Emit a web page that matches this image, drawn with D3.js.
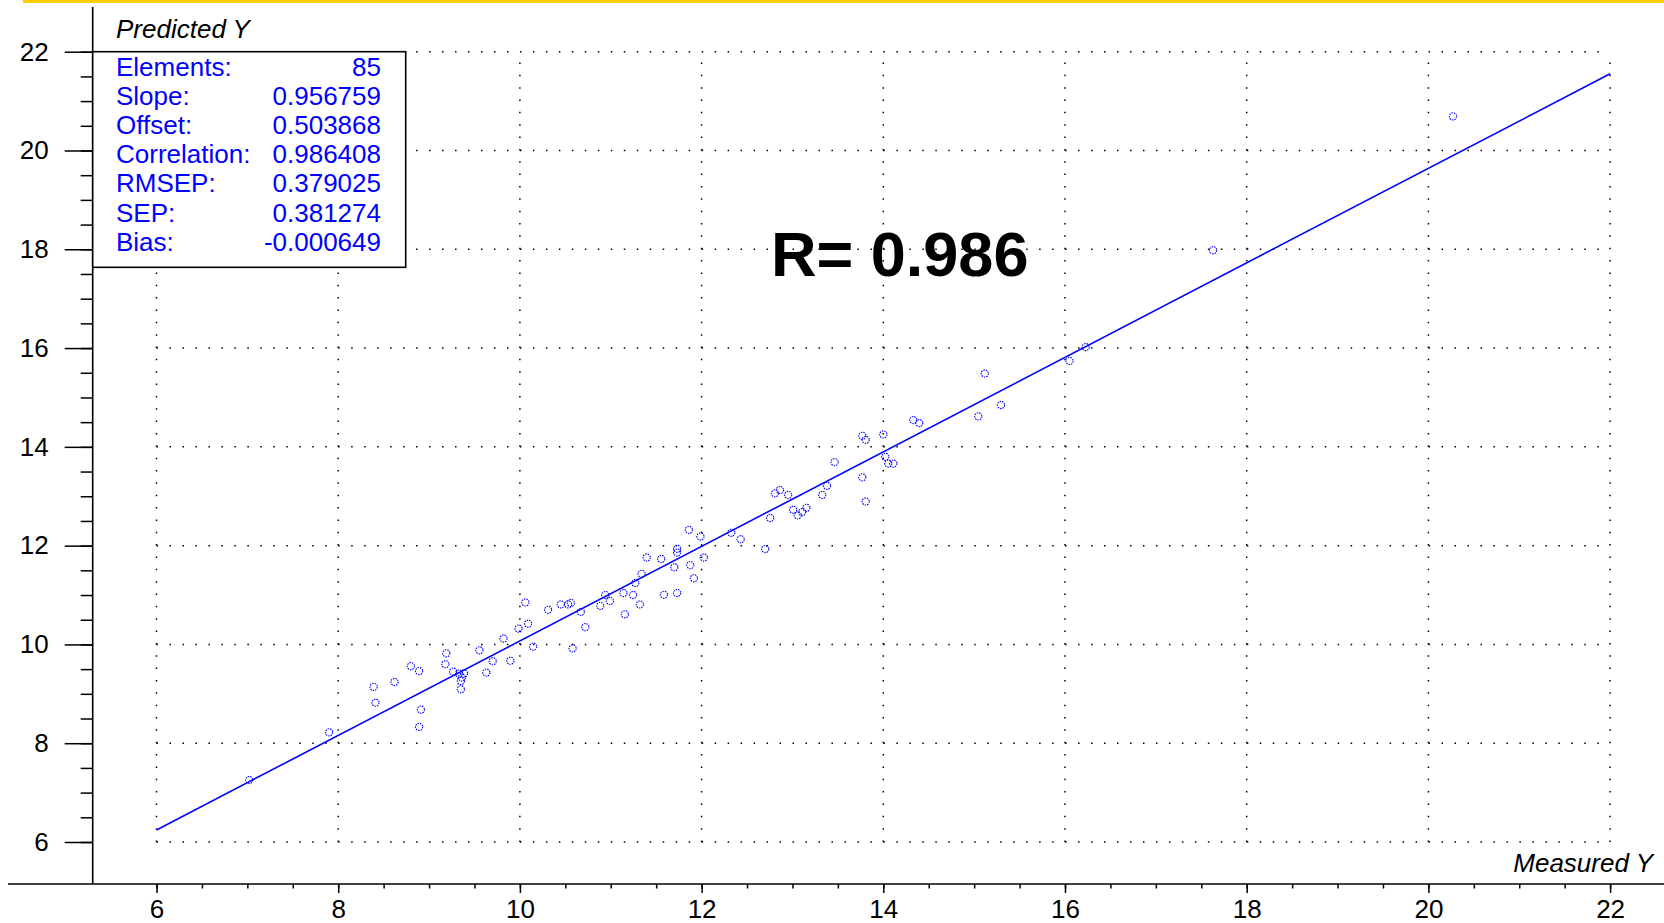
<!DOCTYPE html>
<html>
<head>
<meta charset="utf-8">
<script src="https://cdn.jsdelivr.net/npm/d3@7"></script>
<style>
  body { margin: 0; background: #fff; }
  svg { display: block; font-family: "Liberation Sans", Arial, sans-serif; }
</style>
</head>
<body>
<svg id="chart" width="1664" height="923"></svg>
<script>
//
// Data
//

var measured = [
  7.02, 7.90, 8.39, 8.41, 8.62, 8.80, 8.89, 8.91, 8.89, 9.19,
  9.18, 9.265, 9.33, 9.385, 9.35, 9.35, 9.36, 9.555, 9.70, 9.63,
  9.82, 9.895, 9.985, 10.06, 10.09, 10.145, 10.31, 10.45, 10.53, 10.56,
  10.67, 10.72, 10.58, 10.885, 10.94, 10.99, 11.14, 11.155, 11.245, 11.32,
  11.27, 11.34, 11.395, 11.555, 11.585, 11.70, 11.73, 11.73, 11.73, 11.875,
  11.915, 11.86, 11.987, 12.024, 12.326, 12.43, 12.70, 12.755, 12.807, 12.862,
  12.953, 13.008, 13.058, 13.107, 13.153, 13.328, 13.38, 13.464, 13.769, 13.806,
  13.769, 13.806, 14.0, 14.022, 14.055, 14.11, 14.33, 14.396, 15.046, 15.295,
  15.117, 16.05, 16.227, 17.63, 20.27
]
var predicted = [
  7.255, 8.22, 9.14, 8.82, 9.24, 9.56, 9.46, 8.68, 8.33, 9.82,
  9.60, 9.45, 9.41, 9.41, 9.26, 9.09, 9.33, 9.88, 9.66, 9.43,
  10.12, 9.67, 10.32, 10.85, 10.42, 9.955, 10.70, 10.81, 10.81, 10.84,
  10.66, 10.35, 9.92, 10.78, 11.00, 10.88, 11.04, 10.61, 11.00, 10.81,
  11.245, 11.43, 11.76, 11.73, 11.005, 11.56, 11.04, 11.935, 11.86, 11.605,
  11.34, 12.32, 12.185, 11.76, 12.26, 12.13, 11.93, 12.56, 13.06, 13.127,
  13.026, 12.728, 12.613, 12.68, 12.765, 13.026, 13.21, 13.69, 13.383, 12.895,
  14.224, 14.142, 14.251, 13.797, 13.661, 13.661, 14.542, 14.481, 14.617, 14.847,
  15.486, 15.74, 16.02, 17.98, 20.69
]

var statLabels = ['Elements:', 'Slope:', 'Offset:', 'Correlation:', 'RMSEP:', 'SEP:', 'Bias:']
var statValues = ['85', '0.956759', '0.503868', '0.986408', '0.379025', '0.381274', '-0.000649']
var slope = 0.956759
var offset = 0.503868

var xTicks = [6, 8, 10, 12, 14, 16, 18, 20, 22]
var yTicks = [6, 8, 10, 12, 14, 16, 18, 20, 22]
var minorTicks = d3.range(6, 22.01, 0.5)

var xTitle = 'Measured Y'
var yTitle = 'Predicted Y'
var rText = 'R= 0.986'

//
// Setup
//

var svg = d3.select('#chart')
var blue = '#0000ff'
var fontSize = 26

var x = d3.scaleLinear().domain([6, 22]).range([156.5, 1610.1])
var y = d3.scaleLinear().domain([6, 22]).range([842, 51.7])

var axisX = 92.7   // y axis position (px)
var axisY = 884    // x axis position (px)

// yellow bar on top
svg.append('rect')
  .attr('x', 23).attr('y', 0)
  .attr('width', 1664 - 23).attr('height', 3)
  .attr('fill', '#ffcc00')

//
// Grid
//

var grid = svg.append('g')
grid.selectAll('.hgrid')
  .data(yTicks)
  .enter().append('line')
  .attr('x1', x(6)).attr('x2', x(22))
  .attr('y1', function(d) { return y(d) })
  .attr('y2', function(d) { return y(d) })
  .attr('stroke', '#000')
  .attr('stroke-width', 1.5)
  .attr('stroke-dasharray', '1.5,11.48')

grid.selectAll('.vgrid')
  .data(xTicks)
  .enter().append('line')
  .attr('x1', function(d) { return x(d) })
  .attr('x2', function(d) { return x(d) })
  .attr('y1', y(6)).attr('y2', y(22))
  .attr('stroke', '#000')
  .attr('stroke-width', 1.5)
  .attr('stroke-dasharray', '1.5,10.85')

//
// Axes
//

svg.append('line')
  .attr('x1', 8).attr('x2', 1664)
  .attr('y1', axisY).attr('y2', axisY)
  .attr('stroke', '#000').attr('stroke-width', 1.6)
svg.append('line')
  .attr('x1', axisX).attr('x2', axisX)
  .attr('y1', 7).attr('y2', axisY)
  .attr('stroke', '#000').attr('stroke-width', 1.6)

svg.append('g')
  .attr('transform', 'translate(0,' + axisY + ')')
  .call(d3.axisBottom(x).tickValues(minorTicks).tickSize(4.5).tickFormat(''))
svg.append('g')
  .attr('transform', 'translate(0,' + axisY + ')')
  .call(d3.axisBottom(x).tickValues(xTicks).tickSize(9).tickPadding(7).tickFormat(d3.format('d')))

svg.append('g')
  .attr('transform', 'translate(' + axisX + ',0)')
  .call(d3.axisLeft(y).tickValues(minorTicks).tickSize(12).tickFormat(''))
svg.append('g')
  .attr('transform', 'translate(' + axisX + ',0)')
  .call(d3.axisLeft(y).tickValues(yTicks).tickSize(28).tickPadding(16).tickFormat(d3.format('d')))

svg.selectAll('.domain').remove()
svg.selectAll('.tick line').attr('stroke', '#000').attr('stroke-width', 1.5)
svg.selectAll('.tick text')
  .attr('fill', '#000')
  .style('font-size', fontSize + 'px')
  .style('font-family', '"Liberation Sans", Arial, sans-serif')

// axis titles
svg.append('text')
  .attr('x', 1653).attr('y', 872)
  .attr('text-anchor', 'end')
  .style('font-size', fontSize + 'px')
  .style('font-style', 'italic')
  .text(xTitle)

svg.append('text')
  .attr('x', 116).attr('y', 38)
  .style('font-size', fontSize + 'px')
  .style('font-style', 'italic')
  .text(yTitle)

//
// Regression line + points
//

var fit = d3.line()
  .x(function(d) { return x(d) })
  .y(function(d) { return y(slope * d + offset) })

svg.append('path')
  .datum([6, 22])
  .attr('d', fit)
  .attr('fill', 'none')
  .attr('stroke', blue)
  .attr('stroke-width', 1.6)

svg.append('g')
  .selectAll('circle')
  .data(measured)
  .enter().append('circle')
  .attr('cx', function(d) { return x(d) })
  .attr('cy', function(d, i) { return y(predicted[i]) })
  .attr('r', 3.6)
  .attr('fill', 'none')
  .attr('stroke', blue)
  .attr('stroke-width', 1.1)
  .attr('stroke-dasharray', '1.5,1')

//
// Stats box
//

var box = svg.append('g')
box.append('rect')
  .attr('x', axisX).attr('y', y(22))
  .attr('width', 405.7 - axisX).attr('height', 267.3 - y(22))
  .attr('fill', '#fff')
  .attr('stroke', '#000')
  .attr('stroke-width', 1.6)

box.selectAll('.lbl')
  .data(statLabels)
  .enter().append('text')
  .attr('x', 116)
  .attr('y', function(d, i) { return 76 + i * 29.1 })
  .attr('fill', blue)
  .style('font-size', fontSize + 'px')
  .text(function(d) { return d })

box.selectAll('.val')
  .data(statValues)
  .enter().append('text')
  .attr('x', 381)
  .attr('y', function(d, i) { return 76 + i * 29.1 })
  .attr('text-anchor', 'end')
  .attr('fill', blue)
  .style('font-size', fontSize + 'px')
  .text(function(d) { return d })

// big R label
svg.append('text')
  .attr('x', 771).attr('y', 276)
  .style('font-size', '63px')
  .style('font-weight', 'bold')
  .text(rText)
</script>
</body>
</html>
